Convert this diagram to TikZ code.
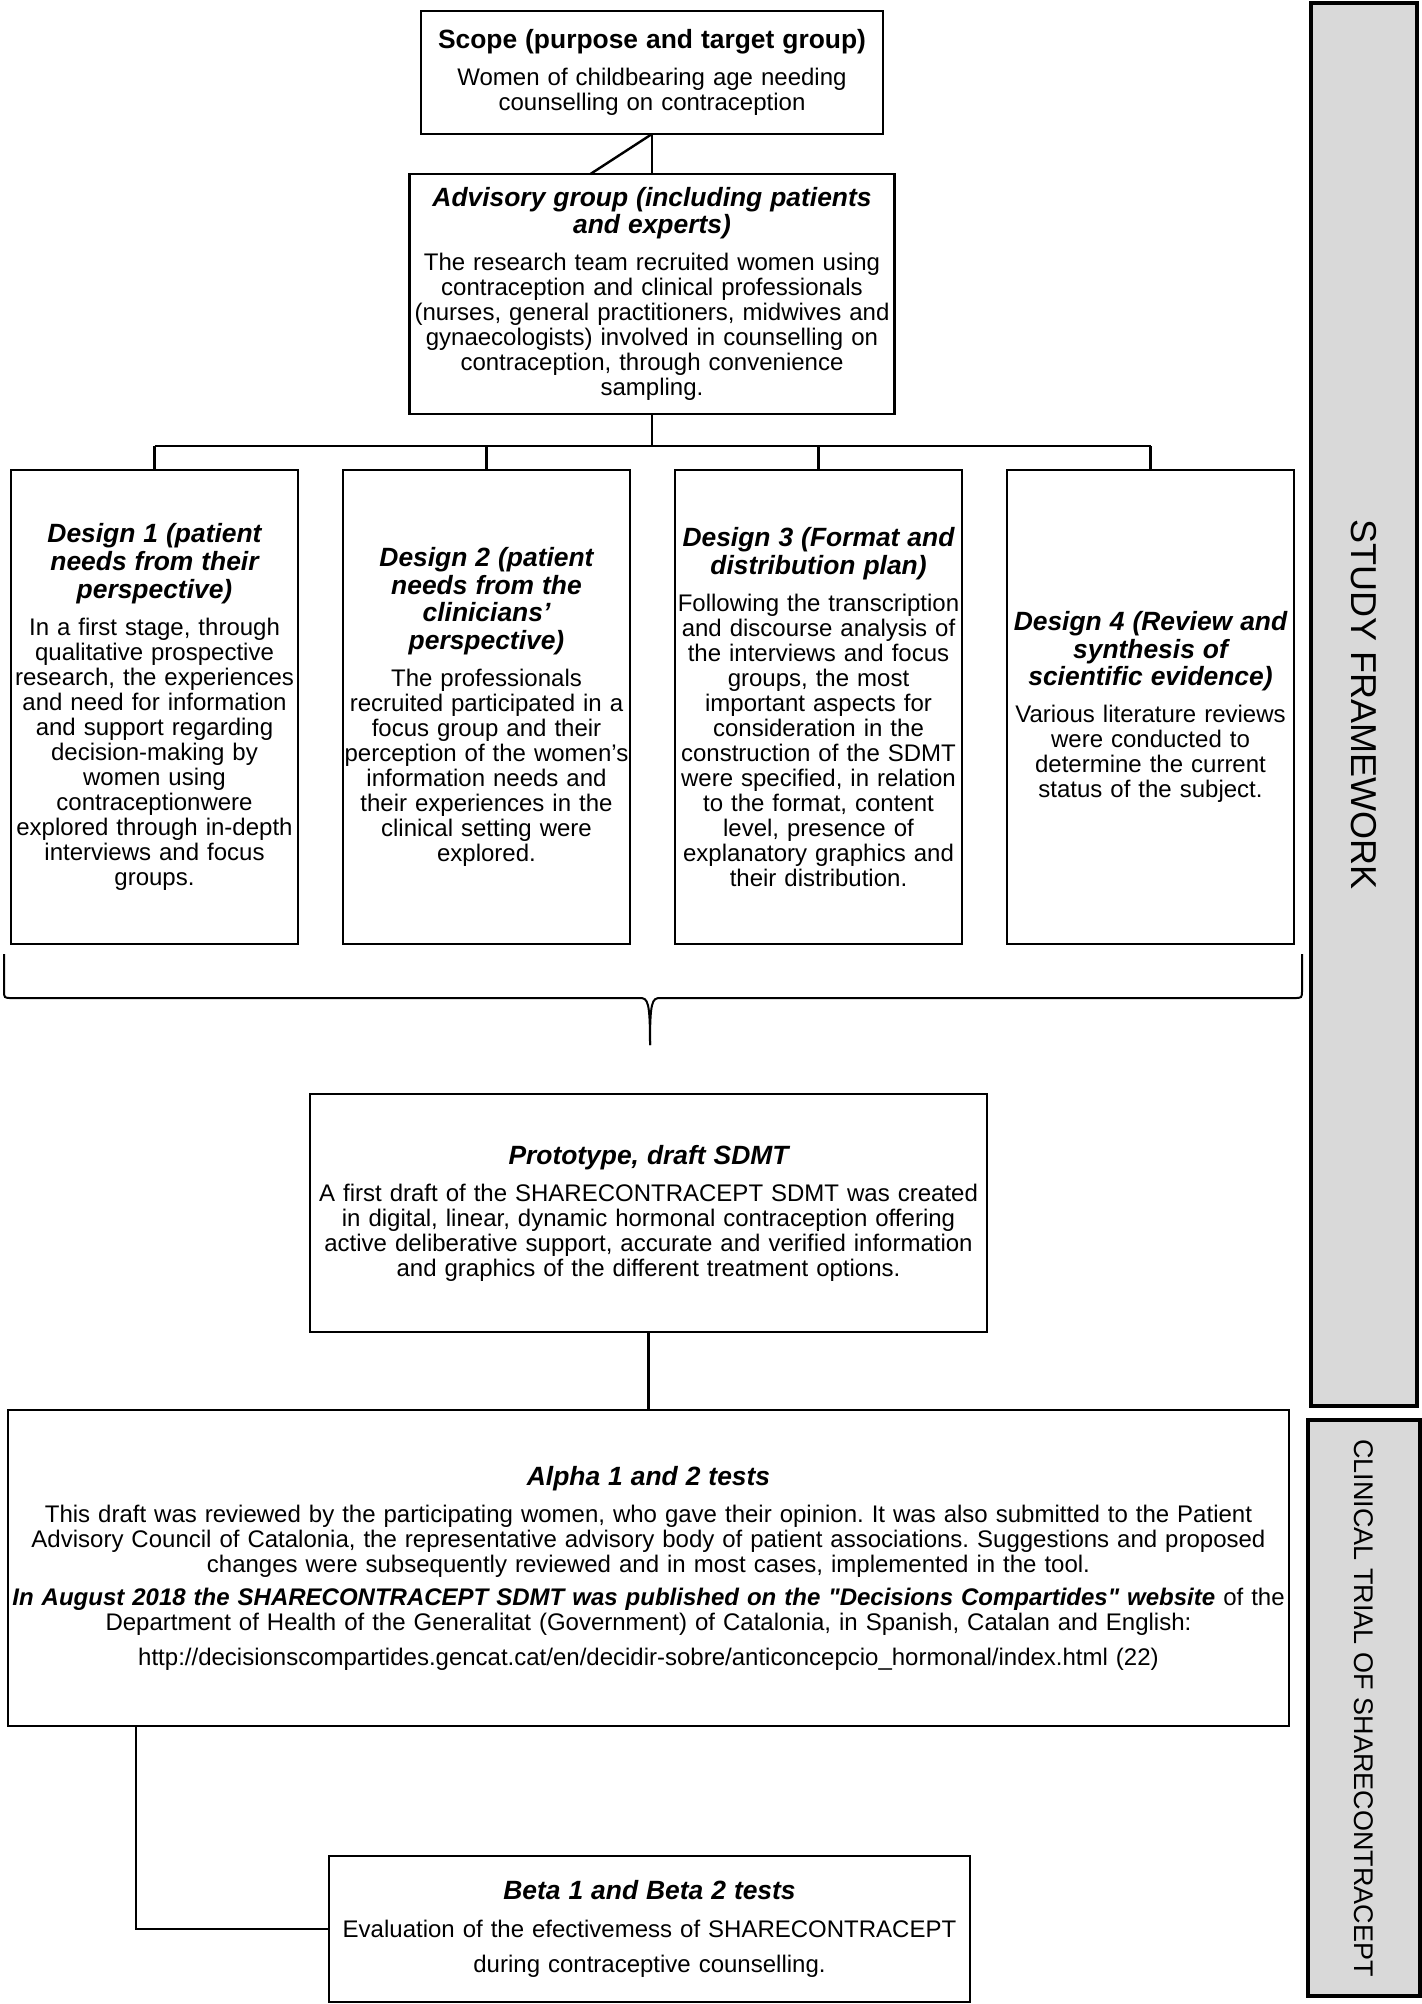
\documentclass[tikz,border=0pt]{standalone}
\usepackage{fontspec}
\setmainfont{Liberation Sans}
\usetikzlibrary{positioning,calc}
\definecolor{sidegray}{RGB}{217,217,217}
\frenchspacing
\newcommand{\hd}[2][6pt]{{\fontsize{13.2}{13.9}\selectfont\bfseries\itshape #2\par}\vspace{#1}}
\newcommand{\hdup}[2][6pt]{{\fontsize{13.2}{13.9}\selectfont\bfseries #2\par}\vspace{#1}}

\begin{document}
\begin{tikzpicture}[x=0.5pt,y=-0.5pt,
    box/.style={draw,line width=1.3pt,align=center,outer sep=0pt,inner xsep=1pt,inner ysep=2pt,font=\fontsize{12}{12.5}\selectfont},
    design/.style={box,inner xsep=0pt,text width=143.5pt,minimum height=237pt},
    side/.style={draw,line width=2.4pt,fill=sidegray,rotate=-90,inner sep=0pt,outer sep=0pt},
    link/.style={line width=1.2pt}]
  \useasboundingbox (0,0) rectangle (1422,2004);
  \node[box,text width=229pt,minimum height=61.5pt] (SC) at (652,72.5)
    {\hdup{Scope (purpose and target group)}
     Women of childbearing age needing\\ counselling on contraception};
  \node[box,text width=240.5pt,minimum height=120pt] (AG) [below=20pt of SC]
    {\hd{Advisory group (including patients\\ and experts)}
     The research team recruited women using\\ contraception and clinical professionals\\
     (nurses, general practitioners, midwives and\\ gynaecologists) involved in counselling on\\
     contraception, through convenience\\ sampling.};
  \node[design,anchor=north west] (D1) at (11,470)
    {\hd{Design 1 (patient\\ needs from their\\ perspective)}
     In a first stage, through\\ qualitative prospective\\ research, the experiences\\
     and need for information\\ and support regarding\\ decision-making by\\ women using\\
     contraceptionwere\\ explored through in-depth\\ interviews and focus\\ groups.};
  \node[design] (D2) [right=22.5pt of D1]
    {\hd{Design 2 (patient\\ needs from the\\ clinicians’\\ perspective)}
     The professionals\\ recruited participated in a\\ focus group and their\\
     perception of the women’s\\ information needs and\\ their experiences in the\\
     clinical setting were\\ explored.};
  \node[design] (D3) [right=22.5pt of D2]
    {\hd{Design 3 (Format and\\ distribution plan)}
     Following the transcription\\ and discourse analysis of\\ the interviews and focus\\
     groups, the most\\ important aspects for\\ consideration in the\\
     construction of the SDMT\\ were specified, in relation\\ to the format, content\\
     level, presence of\\ explanatory graphics and\\ their distribution.};
  \node[design] (D4) [right=22.5pt of D3]
    {\hd{Design 4 (Review and\\ synthesis of\\ scientific evidence)}
     Various literature reviews\\ were conducted to\\ determine the current\\
     status of the subject.};
  \node[box,text width=336.5pt,minimum height=119pt] (PT) at (648.5,1213)
    {\hd{Prototype, draft SDMT}
     A first draft of the SHARECONTRACEPT SDMT was created\\
     in digital, linear, dynamic hormonal contraception offering\\
     active deliberative support, accurate and verified information\\
     and graphics of the different treatment options.};
  \node[box,text width=638.5pt,minimum height=158pt] (AT) [below=39pt of PT]
    {\hd{Alpha 1 and 2 tests}
     This draft was reviewed by the participating women, who gave their opinion. It was also submitted to the Patient\\
     Advisory Council of Catalonia, the representative advisory body of patient associations. Suggestions and proposed\\
     changes were subsequently reviewed and in most cases, implemented in the tool.\par\vspace{4pt}
     \textbf{\textit{In August 2018 the SHARECONTRACEPT SDMT was published on the \textquotedbl Decisions Compartides\textquotedbl\ website}} of the\\
     Department of Health of the Generalitat (Government) of Catalonia, in Spanish, Catalan and English:\par\vspace{5pt}
     http://decisionscompartides.gencat.cat/en/decidir-sobre/anticoncepcio\_hormonal/index.html (22)};
  \node[box,text width=318.5pt,minimum height=73pt] (BT) at (649.5,1929)
    {\hd[1pt]{Beta 1 and Beta 2 tests}
     {\fontsize{12}{17.7}\selectfont Evaluation of the efectivemess of SHARECONTRACEPT\\
     during contraceptive counselling.\par}};
  \node[side,minimum width=701.5pt,minimum height=53pt,font=\fontsize{18}{18}\selectfont] (SF) at (1364,704.5) {STUDY FRAMEWORK};
  \node[side,minimum width=288pt,minimum height=56pt,font=\fontsize{13.5}{13.5}\selectfont] (CT) at (1364,1708) {CLINICAL TRIAL OF SHARECONTRACEPT};
  \coordinate (HB) at (652,446);
  \draw[link] (SC.south) -- (AG.north);
  \draw[link] (SC.south) -- ($(AG.north west)!0.373!(AG.north east)$);
  \draw[link] (AG.south) -- (AG.south |- HB);
  \draw[link] (D1.north |- HB) -- (D4.north |- HB);
  \foreach \n in {D1,D2,D3,D4}
    \draw[link] (\n.north) -- (\n.north |- HB);
  % brace under the four designs
  \draw[line width=1pt] (4,954) -- (4,990) .. controls (4,998) .. (12,998) -- (640,998)
    .. controls (648,998) and (650,1002) .. (650,1045);
  \draw[line width=1pt] (1302,954) -- (1302,990) .. controls (1302,998) .. (1294,998) -- (660,998)
    .. controls (652,998) and (650,1002) .. (650,1045);
  \draw[link] (PT.south) -- (AT.north);
  \draw[link] ($(AT.south west)!0.1!(AT.south east)$) |- (BT.west);
\end{tikzpicture}
\end{document}
